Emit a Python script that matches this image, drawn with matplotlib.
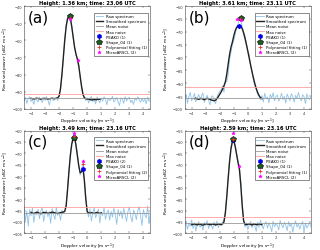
import matplotlib
matplotlib.use("Agg")
import matplotlib.pyplot as plt
import numpy as np

# raw spectra, velocity grid -4.5 .. 4.5 m/s in 0.1 steps
vel = np.round(np.arange(-4.5, 4.51, 0.1), 1)

raw_a = [-95.5, -93.2, -96.8, -94.1, -92.9, -95.7, -94.4, -97.3, -93.6, -94.8,
         -95.9, -93.1, -94.6, -96.2, -93.9, -95.0, -92.8, -94.7, -97.8, -94.2,
         -93.5, -95.3, -94.0, -93.3, -95.1, -92.6, -89.0, -81.0, -71.0, -60.0,
         -51.0, -46.5, -45.5, -47.0, -51.5, -58.5, -63.5, -68.5, -70.5, -74.0,
         -82.0, -86.5, -92.0, -93.8, -95.2, -93.4, -96.5, -94.0, -92.7, -95.8,
         -94.3, -97.1, -93.0, -94.9, -96.4, -93.6, -95.5, -92.9, -94.2, -97.6,
         -93.8, -95.1, -94.5, -92.6, -96.0, -94.7, -93.3, -95.9, -98.0, -93.5,
         -94.1, -96.7, -92.8, -95.4, -94.0, -93.2, -96.3, -94.8, -97.4, -93.7,
         -95.0, -92.9, -94.6, -96.1, -93.9, -95.7, -94.3, -97.0, -93.1, -95.6,
         -94.4]
raw_b = [-96.5, -94.2, -97.8, -95.1, -93.6, -96.9, -95.5, -94.0, -97.2, -95.8,
         -94.4, -96.3, -95.0, -93.8, -97.5, -95.9, -94.7, -96.6, -98.4, -95.2,
         -94.9, -96.8, -97.9, -95.6, -94.0, -93.2, -92.5, -91.0, -93.5, -89.0,
         -89.5, -86.5, -81.0, -78.0, -75.0, -73.5, -71.0, -68.5, -67.0, -65.0,
         -65.5, -68.0, -70.0, -71.5, -74.5, -77.5, -79.0, -83.5, -85.5, -89.0,
         -91.0, -92.5, -94.5, -95.0, -96.5, -94.8, -97.3, -93.9, -96.1, -95.4,
         -97.6, -94.3, -95.8, -93.7, -96.9, -95.2, -94.6, -97.0, -95.9, -93.9,
         -96.4, -95.1, -97.7, -94.2, -95.6, -96.8, -94.0, -95.3, -97.4, -94.7,
         -96.0, -93.6, -95.7, -96.9, -94.5, -95.2, -97.9, -94.1, -95.8, -96.3,
         -95.0]
raw_c = [-93.0, -99.5, -95.2, -101.8, -94.6, -97.3, -93.9, -100.2, -95.8, -96.9,
         -94.4, -98.6, -95.1, -93.7, -99.8, -96.2, -94.9, -97.7, -95.4, -100.6,
         -94.1, -96.8, -98.9, -93.5, -97.1, -95.6, -99.3, -94.8, -96.4, -95.0,
         -92.5, -85.0, -77.5, -70.0, -65.0, -62.5, -61.5, -66.0, -70.0, -75.0,
         -79.5, -77.0, -74.0, -81.0, -89.0, -95.0, -97.8, -94.2, -99.6, -95.9,
         -93.8, -98.1, -96.5, -94.3, -100.4, -95.7, -97.2, -93.6, -98.8, -96.0,
         -94.7, -99.2, -95.3, -97.9, -93.9, -96.6, -101.1, -94.5, -97.4, -95.2,
         -98.5, -94.0, -96.9, -99.7, -95.5, -93.4, -97.6, -100.0, -94.8, -96.3,
         -99.0, -95.1, -93.2, -97.5, -101.5, -94.6, -96.8, -98.2, -93.0, -100.8,
         -95.4]
raw_d = [-97.0, -94.5, -98.2, -95.6, -96.9, -94.1, -97.8, -95.3, -99.0, -96.0,
         -94.8, -97.4, -95.9, -98.6, -95.2, -96.7, -94.4, -97.9, -95.5, -96.3,
         -98.1, -95.0, -96.8, -94.6, -97.5, -95.8, -96.4, -95.1, -94.0, -90.5,
         -83.0, -75.0, -67.5, -62.0, -58.5, -58.0, -61.5, -65.0, -68.0, -71.0,
         -77.0, -87.0, -94.0, -97.2, -95.3, -98.4, -96.1, -94.7, -97.6, -95.4,
         -96.8, -99.1, -95.0, -97.3, -94.2, -96.5, -98.0, -95.7, -94.9, -97.7,
         -95.3, -96.9, -99.3, -94.6, -97.1, -95.8, -96.4, -98.5, -94.3, -96.2,
         -97.5, -95.1, -96.6, -98.8, -94.8, -97.0, -95.6, -99.5, -96.3, -94.5,
         -97.2, -95.9, -98.1, -96.0, -94.7, -99.2, -95.4, -97.6, -96.5, -95.0,
         -97.3]

# smoothed spectra (signal region only), start/end velocity per panel
smooth_range = [(-4.0, 0.9), (-3.8, 1.0), (-4.0, 1.0), (-4.0, 1.0)]
smooth_a = [-93.8, -94.0, -94.2, -94.0, -93.7, -93.9, -94.1, -94.3, -94.0, -93.8,
            -93.9, -94.0, -94.2, -94.1, -93.9, -93.8, -93.9, -94.0, -93.8, -93.5,
            -92.5, -88.0, -80.0, -70.0, -60.0, -52.0, -47.5, -46.0, -47.0, -52.0,
            -58.0, -64.0, -68.0, -71.0, -75.0, -81.0, -87.0, -91.5, -93.5, -94.0,
            -94.2, -94.3, -94.5, -94.8, -94.6, -94.4, -94.7, -94.5, -94.3, -94.4]
smooth_b = [-96.0, -95.8, -96.1, -96.3, -96.0, -95.9, -96.2, -96.4, -96.1, -95.9,
            -96.0, -96.3, -96.5, -96.7, -96.8, -96.6,
            -96.0, -95.2, -94.3, -93.4, -92.3, -91.0, -89.5, -86.5, -82.5, -78.8,
            -76.0, -74.0, -71.6, -69.6, -68.3, -67.7, -67.6,
            -67.9, -68.8, -70.5, -72.6, -75.0, -77.6, -80.3, -83.0, -85.6, -88.0,
            -90.2, -92.1, -93.6, -94.8, -95.6, -96.0]
smooth_c = [-95.8, -96.1, -96.3, -96.0, -95.7, -95.9, -96.2, -96.4, -96.1, -95.8,
            -95.9, -96.0, -96.2, -96.1, -95.9, -95.7, -95.8, -96.0, -96.2, -96.3,
            -96.1, -95.9, -95.8, -95.6, -95.4,
            -93.0, -86.0, -78.0, -71.0, -66.0, -63.5, -63.0, -66.5, -71.0, -75.5,
            -78.5, -78.0, -76.5, -82.0, -90.0, -95.5,
            -96.0, -96.2, -95.9, -96.1, -96.3, -96.0, -95.8, -96.1, -96.2, -96.0]
smooth_d = [-96.2, -96.0, -95.8, -96.1, -96.3, -96.0, -95.9, -96.2, -96.4, -96.1,
            -95.8, -95.9, -96.0, -96.2, -96.1, -95.9, -96.0, -96.3, -96.1, -95.9,
            -96.0, -96.2, -95.8,
            -95.0, -91.0, -84.0, -76.0, -68.5, -63.0, -59.8, -59.5, -62.0, -65.5,
            -69.0, -72.0, -79.0, -88.0, -94.5, -96.0,
            -96.2, -96.0, -95.8, -96.1, -96.3, -96.0, -95.9, -96.2, -96.1, -95.8,
            -96.0, -96.2]

mean_noise = [-93.5, -95.8, -96.0, -95.5]
max_noise = [-91.2, -91.6, -93.3, -92.6]

# detected peaks (velocity, power)
peako_v = [[-1.25], [-0.6], [-0.95, -0.3], [-1.05]]
peako_p = [[-46.0], [-67.6], [-63.0, -76.8], [-59.0]]
shape_v = [[-1.25], [-0.5], [-0.95], [-1.05]]
shape_p = [[-45.6], [-64.8], [-63.2], [-58.8]]
poly_v = [[-1.25], [-0.55], [-0.95, -0.3], [-1.05]]
poly_p = [[-47.0], [-65.2], [-62.5, -74.6], [-58.5]]
micro_v = [[-1.25, -0.65], [-0.75, -0.5], [-0.95, -0.3], [-1.05, -0.6]]
micro_p = [[-47.3, -71.3], [-65.0, -65.3], [-61.0, -73.3], [-56.0, -70.3]]

titles = ["Height: 1.36 km; time: 23.06 UTC", "Height: 3.61 km; time: 23.11 UTC",
          "Height: 3.49 km; time: 23.16 UTC", "Height: 2.59 km; time: 23.16 UTC"]
letters = ["(a)", "(b)", "(c)", "(d)"]
ylims = [(-100, -40), (-100, -60), (-105, -60), (-100, -55)]
ysteps = [10, 5, 5, 5]

raws = [raw_a, raw_b, raw_c, raw_d]
smooths = [smooth_a, smooth_b, smooth_c, smooth_d]

fig = plt.figure(figsize=(3.2, 2.51), dpi=100)
positions = [[0.075, 0.562, 0.395, 0.41], [0.577, 0.562, 0.395, 0.41],
             [0.075, 0.066, 0.395, 0.41], [0.577, 0.066, 0.395, 0.41]]

fs = 2.6
for k in range(4):
    ax = fig.add_axes(positions[k])
    ax.plot(vel, raws[k], color='#8fc3e8', lw=0.6, label='Raw spectrum')
    sv = np.linspace(smooth_range[k][0], smooth_range[k][1], len(smooths[k]))
    ax.plot(sv, smooths[k], color='#222222', lw=1.0, label='Smoothed spectrum')
    ax.axhline(mean_noise[k], color='#999999', lw=0.6, label='Mean noise')
    ax.axhline(max_noise[k], color='#ff9d9d', lw=0.6, label='Max noise')
    ax.plot(peako_v[k], peako_p[k], 'h', color='#0000ee', ms=2.6, ls='none',
            label='PEAKO (%d)' % len(peako_v[k]))
    ax.plot(shape_v[k], shape_p[k], 'p', mfc='#1f5c1f', mec='black', mew=0.4, ms=4,
            ls='none', label='Shape_04 (%d)' % len(shape_v[k]))
    ax.plot(poly_v[k], poly_p[k], '+', color='#ee3333', ms=2.5, mew=0.6, ls='none',
            label='Polynomial fitting (%d)' % len(poly_v[k]))
    ax.plot(micro_v[k], micro_p[k], '*', color='#ff00ff', ms=2.5, mew=0.4, ls='none',
            label='MicroARSCL (%d)' % len(micro_v[k]))

    ax.set_xlim(-4.5, 4.5)
    ax.set_ylim(*ylims[k])
    ax.set_xticks(np.arange(-4, 5, 1))
    ax.set_yticks(np.arange(ylims[k][0], ylims[k][1] + 1, ysteps[k]))
    ax.tick_params(direction='in', length=1.5, width=0.3, labelsize=fs, pad=1.2,
                   top=True, right=True, colors='#333333')
    for s in ax.spines.values():
        s.set_linewidth(0.4)
        s.set_color('#444444')
    ax.set_title(titles[k], fontsize=3.7, fontweight='bold', pad=1.2)
    ax.set_xlabel(r'Doppler velocity [m s$^{-1}$]', fontsize=3.2, labelpad=0.8)
    ax.set_ylabel(r'Received power [dBZ m s$^{-1}$]', fontsize=3.2, labelpad=1.0)
    ax.text(0.03, 0.97, letters[k], transform=ax.transAxes, fontsize=11,
            va='top', ha='left')
    leg = ax.legend(loc='upper right', fontsize=2.8, labelspacing=0.3,
                    handlelength=2.0, handletextpad=0.6, borderpad=0.4,
                    fancybox=False, edgecolor='#333333', framealpha=1,
                    bbox_to_anchor=(1.0, 0.955))
    leg.get_frame().set_linewidth(0.4)

fig.savefig('out.png', dpi=100)
